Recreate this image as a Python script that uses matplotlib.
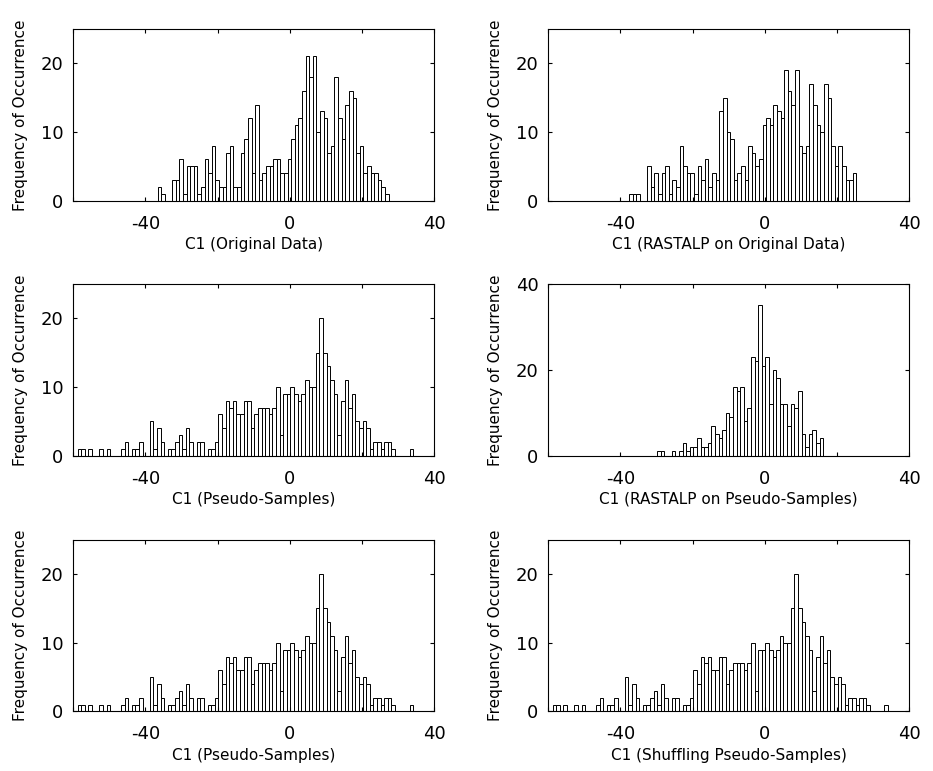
import numpy as np
import matplotlib
matplotlib.use('Agg')
import matplotlib.pyplot as plt

# ---------------- data (histogram counts, bin width 1) ----------------
BIN_WIDTH = 1.0

orig_start = -36.6          # left edge of first bin
orig_counts = [2, 1, 0, 0, 3, 3, 6, 1, 5, 5, 5, 1, 2, 6, 4, 8, 3, 2, 2, 7,
               8, 2, 2, 7, 9, 12, 4, 14,
               3, 4, 5, 5, 6, 6, 4, 4,
               6, 9, 11, 12, 16, 21, 18, 21, 10, 13, 12, 7, 8, 18, 12, 9, 14, 16, 15, 7,
               8, 4, 5, 4, 4, 3, 2, 1]

rast_orig_start = -37.6
rast_orig_counts = [1, 1, 1, 0, 0, 5, 2, 4, 1, 4, 5, 1, 3, 2, 8, 5, 4, 4, 1, 5,
                    3, 6, 2, 4, 3, 13, 15, 10, 9,
                    3, 4, 5, 3, 8, 7, 5, 6,
                    11, 12, 11, 14, 13, 12, 19, 16, 14, 19,
                    8, 7, 8, 17, 14, 11, 10, 17, 15, 8,
                    5, 8, 5, 3, 3, 4]

pseudo_start = -58.8
pseudo_counts = [1, 1, 0, 1, 0, 0, 1, 0, 1, 0,
                 0, 0, 1, 2, 0, 1, 1, 2, 0, 0,
                 5, 1, 4, 2, 0, 1, 1, 2, 3, 1,
                 4, 2, 0, 2, 2, 0, 1, 1, 2, 6,
                 4, 8, 7, 8, 6, 6, 8, 8, 4, 6,
                 7, 7, 7, 6, 7, 10, 3, 9, 9, 10,
                 9, 8, 9, 11, 10, 10, 15, 20, 15, 13,
                 11, 9, 3, 8, 11, 7, 9, 5, 4, 5,
                 4, 1, 2, 2, 1, 2, 2, 1, 0, 0,
                 0, 0, 1]

rast_pseudo_start = -29.8
rast_pseudo_counts = [1, 1, 0, 0, 1, 0, 1, 3, 1, 2,
                      2, 4, 2, 2, 3, 7, 5, 4, 6, 10,
                      9, 16, 15, 16, 8, 11, 23, 22, 35, 21,
                      23, 12, 20, 18, 12, 12, 7, 12, 11, 15,
                      5, 2, 5, 6, 3, 4]

x_titles = ['C1 (Original Data)', 'C1 (RASTALP on Original Data)',
            'C1 (Pseudo-Samples)', 'C1 (RASTALP on Pseudo-Samples)',
            'C1 (Pseudo-Samples)', 'C1 (Shuffling Pseudo-Samples)']
y_title = 'Frequency of Occurrence'

x_ticks = [-60, -40, -20, 0, 20, 40]
x_ticklabels = ['', '-40', '', '0', '', '40']

panels = [
    (orig_start, orig_counts, 25, [0, 10, 20]),
    (rast_orig_start, rast_orig_counts, 25, [0, 10, 20]),
    (pseudo_start, pseudo_counts, 25, [0, 10, 20]),
    (rast_pseudo_start, rast_pseudo_counts, 40, [0, 20, 40]),
    (pseudo_start, pseudo_counts, 25, [0, 10, 20]),
    (pseudo_start, pseudo_counts, 25, [0, 10, 20]),
]

# ---------------- layout ----------------
fig = plt.figure(figsize=(9.33, 7.71), dpi=100)
lefts = [0.0786, 0.5877]
bottoms = [0.7397, 0.409, 0.0772]
W, H = 0.3866, 0.2227

for i, (start, counts, ymax, yticks) in enumerate(panels):
    r, c = divmod(i, 2)
    ax = fig.add_axes([lefts[c], bottoms[r], W, H])
    counts = np.asarray(counts)
    centers = start + BIN_WIDTH * (np.arange(len(counts)) + 0.5)
    ax.bar(centers, counts, width=BIN_WIDTH, color='white',
           edgecolor='black', linewidth=0.7, align='center')
    ax.set_xlim(-60, 40)
    ax.set_ylim(0, ymax)
    ax.set_xticks(x_ticks)
    ax.set_xticklabels(x_ticklabels)
    ax.set_yticks(yticks)
    ax.set_yticklabels([str(v) for v in yticks])
    ax.tick_params(direction='in', length=3, width=0.8, top=True, right=True,
                   labelsize=13, colors='black')
    ax.tick_params(axis='x', pad=10)
    ax.tick_params(axis='y', pad=7)
    for s in ax.spines.values():
        s.set_linewidth(0.8)
        s.set_color('black')
    ax.set_xlabel(x_titles[i], fontsize=11, labelpad=3)
    ax.set_ylabel(y_title, fontsize=11, labelpad=9)

fig.savefig('out.png', dpi=100)
